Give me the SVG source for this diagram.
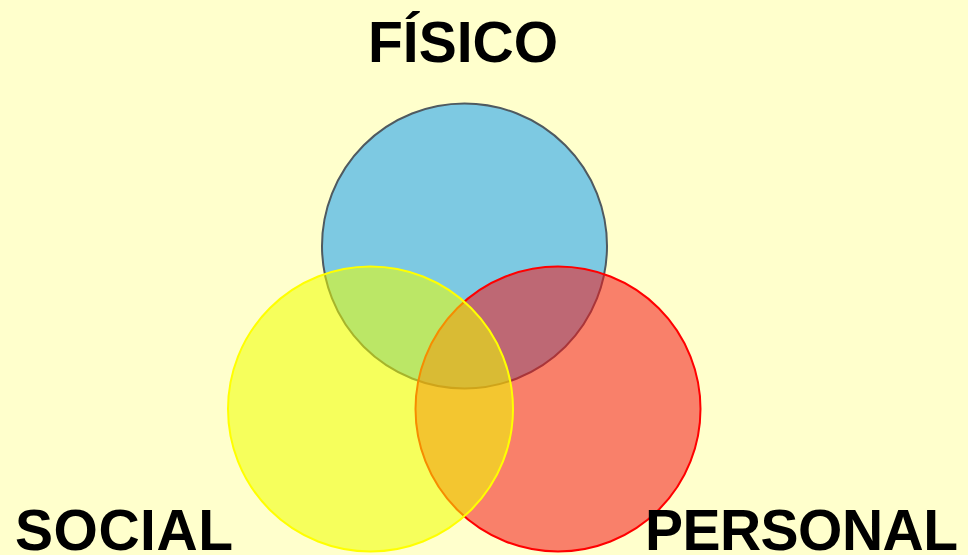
<svg xmlns="http://www.w3.org/2000/svg" width="968" height="555" viewBox="0 0 968 555">
<style>
.lbl{font-family:"Liberation Sans",Arial,sans-serif;font-weight:bold;font-size:57px;fill:#000}
</style>
<rect x="0" y="0" width="968" height="555" fill="#FFFFCC"/>
<g id="fisico">
<circle cx="464.5" cy="246" r="142.5" fill="#7DC9E2" stroke="#4F5A60" stroke-width="2"/>
</g>
<g id="personal">
<circle cx="558" cy="409" r="142.5" fill="#F4181A" fill-opacity="0.55" stroke="#FF0000" stroke-width="2"/>
</g>
<g id="social">
<circle cx="370.5" cy="409" r="142.5" fill="#EFFF00" fill-opacity="0.55" stroke="#FFFF00" stroke-width="2"/>
</g>
<g id="labels">
<text class="lbl" x="463" y="62" text-anchor="middle">FÍSICO</text>
<text class="lbl" x="15" y="550" textLength="218">SOCIAL</text>
<text class="lbl" x="645" y="550" textLength="313">PERSONAL</text>
</g>
</svg>
